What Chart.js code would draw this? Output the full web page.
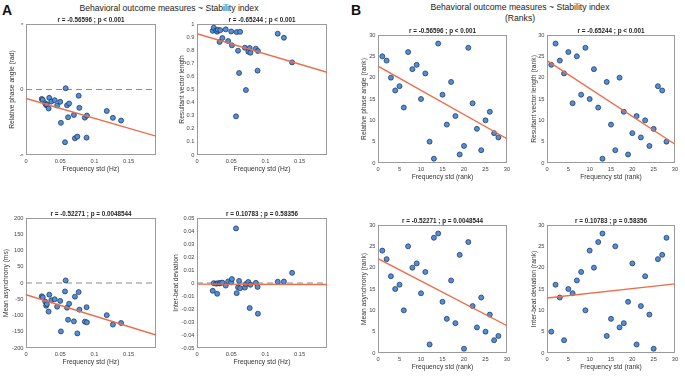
<!DOCTYPE html>
<html><head><meta charset="utf-8">
<script src="https://cdn.jsdelivr.net/npm/chart.js@4.4.1/dist/chart.umd.min.js"></script>
<style>
html,body{margin:0;padding:0;background:#fff;}
body{width:685px;height:376px;position:relative;overflow:hidden;font-family:"Liberation Sans",Arial,sans-serif;}
.txt{position:absolute;color:#222;white-space:nowrap;}
.big{font-size:14px;font-weight:bold;line-height:14px;color:#111;}
.main{font-size:8.6px;text-align:center;color:#222;}
</style></head><body>
<div class="txt big" style="left:2px;top:3px;">A</div>
<div class="txt big" style="left:351px;top:3px;">B</div>
<div class="txt main" style="left:69px;top:2.5px;width:200px;line-height:10px;">Behavioral outcome measures ~ Stability index</div>
<div class="txt main" style="left:420px;top:1.75px;width:200px;line-height:11.5px;">Behavioral outcome measures ~ Stability index<br>(Ranks)</div>
<script>
// ---------- data (28 participants, ordered by frequency std) ----------
const freqStd = [0.023, 0.0245, 0.028, 0.0295, 0.0305, 0.033, 0.034, 0.037, 0.042, 0.0455, 0.050, 0.051, 0.057, 0.058,
                 0.060, 0.0615, 0.063, 0.070, 0.0715, 0.075, 0.077, 0.078, 0.086, 0.0885, 0.089, 0.118, 0.127, 0.139];
const phase = [-0.45, -0.50, -0.66, -0.75, -0.72, -0.91, -0.40, -0.58, -0.51, -0.77, -0.59, -1.60, -2.53, 0.06,
               -0.76, -1.33, -0.67, -1.22, -2.34, -2.26, -0.30, -0.88, -1.35, -2.31, -1.25, -1.03, -1.36, -1.49];
const vecLen = [0.948, 0.972, 0.950, 0.941, 0.956, 0.863, 0.953, 0.893, 0.959, 0.870, 0.943, 0.837, 0.295, 0.938,
                0.796, 0.626, 0.940, 0.819, 0.496, 0.789, 0.817, 0.781, 0.812, 0.644, 0.794, 0.926, 0.895, 0.707];
const asyn = [-41, -44, -57, -70, -65, -88, -36, -53, -50, -73, -55, -149, -26, 8,
              -76, -113, -64, -118, -42, -155, -28, -82, -119, -74.5, -121, -99, -128, -123];
const ibd = [-0.006, -0.0001, -0.0005, -0.0083, -0.0002, -0.0003, 0.0, 0.0003, -0.002, 0.0012, 0.0005, 0.003, 0.042, -0.0078,
             -0.0033, 0.0016, -0.004, -0.0035, -0.0008, 0.0008, -0.0193, -0.0014, 0.0001, -0.003, -0.0236, 0.001, 0.0011, 0.0078];

const freqRank = [1,2,3,4,5,6,7,8,9,10,11,12,13,14,15,16,17,18,19,20,21,22,23,24,25,26,27,28];
const phaseRank = [25,24,20,17,18,13,26,22,23,15,21,5,1,28,16,9,19,11,2,4,27,14,8,3,10,12,7,6];
const vecLenRank = [23,28,24,21,26,14,25,16,27,15,22,13,1,19,9,3,20,12,2,7,11,6,10,4,8,18,17,5];
const asynRank = [24,22,18,15,16,10,25,20,21,14,19,2,27,28,12,8,17,7,23,1,26,11,6,13,5,9,3,4];
const ibdRank = [5,16,13,3,15,14,17,19,10,24,20,26,28,4,8,25,6,7,12,21,2,11,18,9,1,22,23,27];

// fitted least-squares lines: y at left and right x-limits
const fitPhase = [-0.43, -2.24];
const fitVecLen = [0.926, 0.631];
const fitAsyn = [-36, -160];
const fitIbd = [-0.0009, -0.0012];
const fitPhaseRank = [22.7, 5.7];
const fitVecLenRank = [24.0, 4.4];
const fitAsynRank = [22.1, 6.4];
const fitIbdRank = [12.9, 16.2];

const statTitles = ['r = -0.56596 ; p < 0.001', 'r = -0.65244 ; p < 0.001',
                    'r = -0.52271 ; p = 0.0048544', 'r = 0.10783 ; p = 0.58356'];

// ---------- ticks ----------
const hzRange = [0, 0.19];
const hzTicks = [0, 0.05, 0.1, 0.15];
const hzTickLabels = ['0', '0.05', '0.1', '0.15'];
const rankRange = [0, 30];
const rankTicks = [0, 5, 10, 15, 20, 25, 30];
const rankTickLabels = ['0', '5', '10', '15', '20', '25', '30'];
const phaseRange = [-Math.PI, Math.PI];
const phaseTicks = [-Math.PI, 0, Math.PI];
const phaseTickLabels = ['-π', '0', 'π'];
const vecRange = [0, 1];
const vecTicks = [0, 0.1, 0.2, 0.3, 0.4, 0.5, 0.6, 0.7, 0.8, 0.9, 1];
const vecTickLabels = ['0', '0.1', '0.2', '0.3', '0.4', '0.5', '0.6', '0.7', '0.8', '0.9', '1'];
const asynRange = [-200, 200];
const asynTicks = [-200, -150, -100, -50, 0, 50, 100, 150, 200];
const asynTickLabels = ['-200', '-150', '-100', '-50', '0', '50', '100', '150', '200'];
const ibdRange = [-0.05, 0.05];
const ibdTicks = [-0.05, -0.04, -0.03, -0.02, -0.01, 0, 0.01, 0.02, 0.03, 0.04, 0.05];
const ibdTickLabels = ['-0.05', '-0.04', '-0.03', '-0.02', '-0.01', '0', '0.01', '0.02', '0.03', '0.04', '0.05'];

// ---------- drawing ----------
const FONT = '"Liberation Sans", Arial, sans-serif';
const boxPlugin = {
  id: 'box',
  beforeDatasetsDraw(chart) {
    const {ctx, chartArea: a} = chart;
    ctx.save();
    ctx.strokeStyle = '#9a9a9a';
    ctx.lineWidth = 1;
    ctx.strokeRect(Math.round(a.left) + 0.5, Math.round(a.top) + 0.5,
                   Math.round(a.right - a.left) - 1, Math.round(a.bottom - a.top) - 1);
    ctx.restore();
  }
};

function makeChart(p) {
  const [L, T, R, B] = p.rect;
  const W = Math.round(p.yOff + 4.2);
  const H = 18;
  const TOP = 12, RP = 10;
  const cw = W + (R - L) + RP, ch = TOP + (B - T) + H;
  const cv = document.createElement('canvas');
  cv.width = cw; cv.height = ch;
  cv.style.cssText = `position:absolute;left:${L - W}px;top:${T - TOP}px;width:${cw}px;height:${ch}px;`;
  document.body.appendChild(cv);
  const pts = p.xs.map((x, i) => ({x, y: p.ys[i]}));
  const datasets = [];
  if (p.zero) datasets.push({data: [{x: p.xr[0], y: 0}, {x: p.xr[1], y: 0}], showLine: true, pointRadius: 0,
    borderColor: '#8c8c8c', borderWidth: 1.2, borderDash: [6, 4], order: 3});
  datasets.push({data: pts, pointRadius: 2.5, backgroundColor: '#4f8fdc', borderColor: '#1b2c4a', borderWidth: 0.7, order: 2});
  datasets.push({data: [{x: p.xr[0], y: p.fit[0]}, {x: p.xr[1], y: p.fit[1]}], showLine: true, pointRadius: 0,
    borderColor: '#ec6d4a', borderWidth: 1.4, order: 1});
  new Chart(cv, {
    type: 'scatter',
    data: {datasets},
    options: {
      responsive: false, animation: false, events: [],
      layout: {padding: {top: 0, left: 0, right: RP, bottom: 0}},
      plugins: {
        legend: {display: false}, tooltip: {enabled: false},
        title: {display: true, fullSize: false, text: p.title, color: '#1e1e1e',
                font: {family: FONT, size: 6.3, weight: 'bold', lineHeight: 1.2}, padding: {top: 4.22, bottom: 0.22}}
      },
      scales: {
        x: {
          type: 'linear', min: p.xr[0], max: p.xr[1],
          grid: {display: false, drawTicks: false}, border: {display: false},
          afterBuildTicks: a => { a.ticks = p.xt.map(v => ({value: v})); },
          ticks: {autoSkip: false, maxRotation: 0, padding: 3, color: '#444',
                  font: {family: FONT, size: 5.7}, callback: (v, i) => p.xl[i]},
          title: {display: true, text: p.xTitle, color: '#333', font: {family: FONT, size: 6.7, lineHeight: 1.2}, padding: 0},
          afterFit: a => { a.height = H; }
        },
        y: {
          type: 'linear', min: p.yr[0], max: p.yr[1],
          grid: {display: false, drawTicks: false}, border: {display: false},
          afterBuildTicks: a => { a.ticks = p.yt.map(v => ({value: v})); },
          ticks: {autoSkip: false, padding: 2.5, color: '#444',
                  font: p.yFont || {family: FONT, size: 5.7}, callback: (v, i) => p.yl[i]},
          title: {display: true, text: p.yTitle, color: '#333', font: {family: FONT, size: 6.7, lineHeight: 1.2}, padding: 0},
          afterFit: a => { a.width = W; }
        }
      }
    },
    plugins: [boxPlugin]
  });
}

const hzX = {xs: freqStd, xr: hzRange, xt: hzTicks, xl: hzTickLabels, xTitle: 'Frequency std (Hz)'};
const rkX = {xs: freqRank, xr: rankRange, xt: rankTicks, xl: rankTickLabels, xTitle: 'Frequency std (rank)'};
const rkY = {yr: rankRange, yt: rankTicks, yl: rankTickLabels};

const panels = [
  Object.assign({rect: [26, 24, 156, 155], yOff: 14, zero: true, ys: phase, fit: fitPhase, title: statTitles[0],
    yTitle: 'Relative phase angle (rad)', yr: phaseRange, yt: phaseTicks, yl: phaseTickLabels,
    yFont: ctx => ({family: FONT, size: (ctx.tick && Math.abs(ctx.tick.value) < 1e-9) ? 5.7 : 3.6})}, hzX),
  Object.assign({rect: [197, 24, 327, 155], yOff: 15, zero: false, ys: vecLen, fit: fitVecLen, title: statTitles[1],
    yTitle: 'Resultant vector length', yr: vecRange, yt: vecTicks, yl: vecTickLabels}, hzX),
  Object.assign({rect: [26, 218, 156, 348], yOff: 20, zero: true, ys: asyn, fit: fitAsyn, title: statTitles[2],
    yTitle: 'Mean asynchrony (ms)', yr: asynRange, yt: asynTicks, yl: asynTickLabels}, hzX),
  Object.assign({rect: [197, 218, 327, 348], yOff: 21, zero: true, ys: ibd, fit: fitIbd, title: statTitles[3],
    yTitle: 'Inter-beat deviation', yr: ibdRange, yt: ibdTicks, yl: ibdTickLabels}, hzX),
  Object.assign({rect: [378, 35, 507, 163], yOff: 14, ys: phaseRank, fit: fitPhaseRank, title: statTitles[0],
    yTitle: 'Relative phase angle (rank)'}, rkX, rkY),
  Object.assign({rect: [547, 35, 675, 163], yOff: 13, ys: vecLenRank, fit: fitVecLenRank, title: statTitles[1],
    yTitle: 'Resultant vector length (rank)'}, rkX, rkY),
  Object.assign({rect: [378, 225, 507, 353], yOff: 14, ys: asynRank, fit: fitAsynRank, title: statTitles[2],
    yTitle: 'Mean asynchrony (rank)'}, rkX, rkY),
  Object.assign({rect: [547, 225, 675, 353], yOff: 13, ys: ibdRank, fit: fitIbdRank, title: statTitles[3],
    yTitle: 'Inter-beat deviation (rank)'}, rkX, rkY)
];
panels.forEach(makeChart);
</script>
</body></html>
